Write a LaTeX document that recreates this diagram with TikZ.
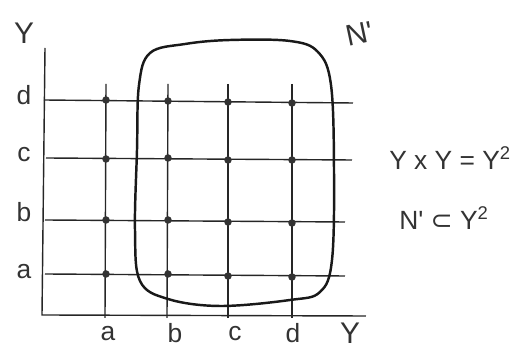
\documentclass[tikz,border=0pt]{standalone}
\usepackage{fontspec}
\setmainfont{Liberation Sans}
\newfontfamily\dejavu{DejaVu Sans}

\begin{document}
\begin{tikzpicture}[x=0.02cm, y=-0.02cm]

\tikzset{
  grid dot/.style={
    circle,
    fill=black!80,
    inner sep=0pt,
    minimum size=0.15cm,
  },
  axis label/.style={
    inner sep=0pt,
    text=black!80,
    font=\fontsize{15}{17}\selectfont,
  },
  big label/.style={
    inner sep=0pt,
    text=black!80,
    font=\fontsize{17}{19}\selectfont,
  },
  grid line/.style={
    line width=0.8pt,
    black!85,
  }
}

\useasboundingbox (0,0) rectangle (512,347);

% Axes
\coordinate (ytop) at (45,48);
\coordinate (origin) at (42,315);
\coordinate (xend) at (366,316);
\draw[grid line] (ytop) -- (origin) -- (xend);

% Ends of the vertical grid lines
\coordinate (ta) at (106,84);
\coordinate (tb) at (168,84);
\coordinate (tc) at (228,84);
\coordinate (td) at (292,84);
\coordinate (ba) at (105,318);
\coordinate (bb) at (167,318);
\coordinate (bc) at (228,318);
\coordinate (bd) at (292,318);

% Ends of the horizontal grid lines
\coordinate (la) at (45,274);
\coordinate (lb) at (45,220);
\coordinate (lc) at (46,158);
\coordinate (ld) at (44,100);
\coordinate (ra) at (345,276);
\coordinate (rb) at (345,222);
\coordinate (rc) at (352,160);
\coordinate (rd) at (353,103);

\draw[grid line] (ta) -- (ba);
\draw[grid line] (tb) -- (bb);
\draw[grid line] (tc) -- (bc);
\draw[grid line] (td) -- (bd);

\draw[grid line] (la) -- (ra);
\draw[grid line] (lb) -- (rb);
\draw[grid line] (lc) -- (rc);
\draw[grid line] (ld) -- (rd);

% Row d
\node[grid dot] (ad) at (106,100) {};
\node[grid dot] (bd') at (168,101) {};
\node[grid dot] (cd) at (228,102) {};
\node[grid dot] (dd) at (292,103) {};

% Row c
\node[grid dot] (ac) at (106,159) {};
\node[grid dot] (bc') at (168,158) {};
\node[grid dot] (cc) at (228,160) {};
\node[grid dot] (dc) at (292,160) {};

% Row b
\node[grid dot] (ab) at (106,220) {};
\node[grid dot] (bb') at (168,220) {};
\node[grid dot] (cb) at (228,222) {};
\node[grid dot] (db) at (292,223) {};

% Row a
\node[grid dot] (aa) at (106,274) {};
\node[grid dot] (ba') at (168,274) {};
\node[grid dot] (ca) at (228,276) {};
\node[grid dot] (da) at (292,277) {};

% Subset N'
\draw[line width=1.4pt, black!90] plot[smooth cycle, tension=0.6] coordinates {
  (139,85) (150,53) (185,44) (230,40) (290,41) (318,52)
  (331,85) (334,170) (332,260) (320,292) (290,300) (220,306)
  (168,299) (140,281) (135,230) (137,150)
};
\node[big label, rotate=12] (nlabel) at (360,34) {N\textquotesingle};

% Axis labels
\node[big label] (yup) at (24,33) {Y};
\node[big label] (yright) at (350,333) {Y};

\node[axis label] (rowd) at (24,95) {d};
\node[axis label] (rowc) at (24,155) {c};
\node[axis label] (rowb) at (24,212) {b};
\node[axis label] (rowa) at (24,272) {a};

\node[axis label] (cola) at (108,334) {a};
\node[axis label] (colb) at (175,333) {b};
\node[axis label] (colc) at (235,334) {c};
\node[axis label] (cold) at (293,333) {d};

% Relations
\node[anchor=west, inner sep=0pt, text=black!80, font=\fontsize{15}{17}\selectfont] (square) at (389,158) {Y x Y = Y\textsuperscript{2}};
\node[anchor=west, inner sep=0pt, text=black!80, font=\fontsize{15}{17}\selectfont] (subset) at (399,218) {N\textquotesingle{} {\dejavu ⊂} Y\textsuperscript{2}};

\end{tikzpicture}
\end{document}
